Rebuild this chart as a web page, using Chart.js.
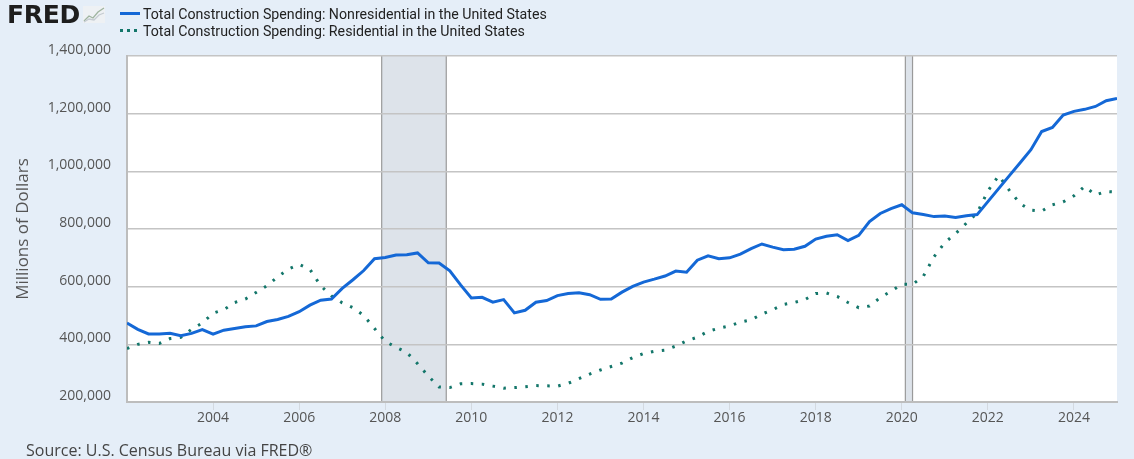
<!DOCTYPE html>
<html>
<head>
<meta charset="utf-8">
<script src="https://cdn.jsdelivr.net/npm/chart.js@4.4.1/dist/chart.umd.min.js"></script>
<style>
  html, body { margin: 0; padding: 0; background: #e5eef8; }
  #wrap { position: relative; width: 1134px; height: 459px; overflow: hidden; }
  #chart { position: absolute; left: 0; top: 0; }
  .logo { position: absolute; left: 7px; top: 0px; font: bold 25px "DejaVu Sans", sans-serif; color: #1e1e1e; letter-spacing: -0.3px; }
  .logo svg { position: absolute; left: 76px; top: 6px; }
  #legend { position: absolute; left: 120px; top: 5px; font: 14.2px Roboto, sans-serif; color: #222; }
  .item { display: flex; align-items: center; height: 17px; }
  .swatch { width: 20px; height: 3px; margin-right: 3px; }
  .source { position: absolute; left: 26px; top: 439px; font: 16px "Open Sans", sans-serif; color: #444; }
</style>
</head>
<body>
<div id="wrap">
  <canvas id="chart" width="1134" height="459"></canvas>
  <div class="logo">FRED<svg width="22" height="17" viewBox="0 0 22 17">
    <rect x="0" y="0" width="22" height="17" fill="#eef1f4"/>
    <polyline points="1,15 6,10 10,12 15,6 21,2" fill="none" stroke="#9fb4a0" stroke-width="1.3"/>
    <polyline points="1,16 6,13 11,14 16,9 21,7" fill="none" stroke="#c5ccd2" stroke-width="1.3"/>
  </svg></div>
  <div id="legend"></div>
  <div class="source">Source: U.S. Census Bureau via FRED®</div>
</div>
<script>
// quarterly readings (Jan/Apr/Jul/Oct), millions of dollars, first point Jan 2002
const startYear = 2002;

const nonresidential = [
  474000, 452000, 436000, 436000, 438000, 430000, 438000, 451000,
  435000, 449000, 455000, 461000, 464000, 479000, 486000, 497000,
  513000, 536000, 553000, 557000, 594000, 624000, 656000, 697000,
  701000, 710000, 711000, 717000, 683000, 682000, 655000, 606000,
  561000, 563000, 546000, 555000, 509000, 518000, 546000, 552000,
  569000, 576000, 579000, 572000, 556000, 557000, 581000, 601000,
  616000, 626000, 637000, 654000, 650000, 692000, 707000, 697000,
  700000, 713000, 732000, 748000, 737000, 728000, 730000, 740000,
  765000, 775000, 780000, 760000, 778000, 826000, 854000, 871000,
  884000, 856000, 850000, 843000, 845000, 840000, 846000, 850000,
  895000, 940000, 985000, 1030000, 1075000, 1138000, 1152000, 1195000,
  1208000, 1215000, 1225000, 1245000, 1253000
];

const residential = [
  385000, 400000, 407000, 403000, 420000, 424000, 452000, 474000,
  508000, 520000, 545000, 557000, 580000, 603000, 634000, 661000,
  677000, 660000, 603000, 568000, 544000, 527000, 500000, 455000,
  410000, 390000, 372000, 333000, 290000, 252000, 250000, 263000,
  264000, 262000, 255000, 248000, 250000, 253000, 257000, 256000,
  255000, 265000, 281000, 297000, 311000, 323000, 335000, 354000,
  368000, 376000, 380000, 394000, 412000, 425000, 445000, 456000,
  464000, 477000, 485000, 505000, 520000, 538000, 545000, 555000,
  576000, 578000, 566000, 545000, 527000, 533000, 562000, 584000,
  608000, 608000, 636000, 704000, 753000, 784000, 820000, 855000,
  932000, 985000, 934000, 888000, 865000, 862000, 884000, 894000,
  915000, 948000, 918000, 930000, 928000
];

const seriesNames = [
  'Total Construction Spending: Nonresidential in the United States',
  'Total Construction Spending: Residential in the United States'
];

const xTicks = [2004, 2006, 2008, 2010, 2012, 2014, 2016, 2018, 2020, 2022, 2024];
const yTicks = [200000, 400000, 600000, 800000, 1000000, 1200000, 1400000];

// recession periods as decimal years
const recessionStart = [2007.917, 2020.083];
const recessionEnd = [2009.417, 2020.25];

const toPoints = arr => arr.map((v, i) => ({ x: startYear + i / 4, y: v }));

const shading = {
  id: 'shading',
  beforeDraw(chart) {
    const { ctx, chartArea: a, scales: { x } } = chart;
    ctx.save();
    ctx.fillStyle = '#ffffff';
    ctx.fillRect(a.left, a.top, a.right - a.left, a.bottom - a.top);
    recessionStart.forEach((s, i) => {
      const x1 = x.getPixelForValue(s);
      const x2 = x.getPixelForValue(recessionEnd[i]);
      ctx.fillStyle = '#dde3ea';
      ctx.fillRect(x1, a.top, x2 - x1, a.bottom - a.top);
      ctx.strokeStyle = '#9a9a9a';
      ctx.lineWidth = 1.2;
      ctx.beginPath();
      ctx.moveTo(x1, a.top); ctx.lineTo(x1, a.bottom);
      ctx.moveTo(x2, a.top); ctx.lineTo(x2, a.bottom);
      ctx.stroke();
    });
    ctx.restore();
  }
};

const ctx = document.getElementById('chart');
const chart = new Chart(ctx, {
  type: 'line',
  data: {
    datasets: [{
      label: seriesNames[0],
      data: toPoints(nonresidential),
      borderColor: '#1468d6',
      borderWidth: 3,
      pointRadius: 0,
      tension: 0
    }, {
      label: seriesNames[1],
      data: toPoints(residential),
      borderColor: '#13766a',
      borderWidth: 3,
      borderDash: [2.5, 8.5],
      pointRadius: 0,
      tension: 0
    }]
  },
  options: {
    responsive: false,
    animation: false,
    events: [],
    layout: { padding: { top: 56, right: 17, left: 0, bottom: 0 } },
    plugins: { legend: { display: false }, tooltip: { enabled: false } },
    scales: {
      x: {
        type: 'linear',
        min: startYear,
        max: startYear + (nonresidential.length - 1) / 4,
        afterBuildTicks: s => { s.ticks = xTicks.map(v => ({ value: v })); },
        afterFit: s => { s.height = 57; },
        ticks: {
          autoSkip: false,
          maxRotation: 0,
          padding: 0,
          color: '#555',
          font: { family: 'Open Sans', size: 14 },
          callback: v => String(v)
        },
        grid: { drawOnChartArea: false, tickLength: 8, color: '#d3d9e0' },
        border: { color: '#bdbdbd', width: 2 }
      },
      y: {
        min: yTicks[0],
        max: yTicks[yTicks.length - 1],
        afterBuildTicks: s => { s.ticks = yTicks.map(v => ({ value: v })); },
        afterFit: s => { s.width = 127; },
        ticks: {
          padding: 16,
          labelOffset: -6,
          color: '#555',
          font: { family: 'Open Sans', size: 14 },
          callback: v => v.toLocaleString('en-US')
        },
        grid: { drawTicks: false, color: '#c4c4c4', lineWidth: 1.5 },
        border: { color: '#bdbdbd', width: 2 },
        title: {
          display: true,
          text: 'Millions of Dollars',
          color: '#555',
          font: { family: 'Open Sans', size: 17 },
          padding: { top: 13, bottom: 0 }
        }
      }
    }
  },
  plugins: [shading]
});

// legend built from the datasets
const legend = document.getElementById('legend');
chart.data.datasets.forEach(ds => {
  const item = document.createElement('div');
  item.className = 'item';
  const sw = document.createElement('span');
  sw.className = 'swatch';
  sw.style.background = ds.borderDash
    ? 'repeating-linear-gradient(to right, ' + ds.borderColor + ' 0 3px, transparent 3px 7px)'
    : ds.borderColor;
  const txt = document.createElement('span');
  txt.textContent = ds.label;
  item.appendChild(sw);
  item.appendChild(txt);
  legend.appendChild(item);
});
</script>
</body>
</html>
